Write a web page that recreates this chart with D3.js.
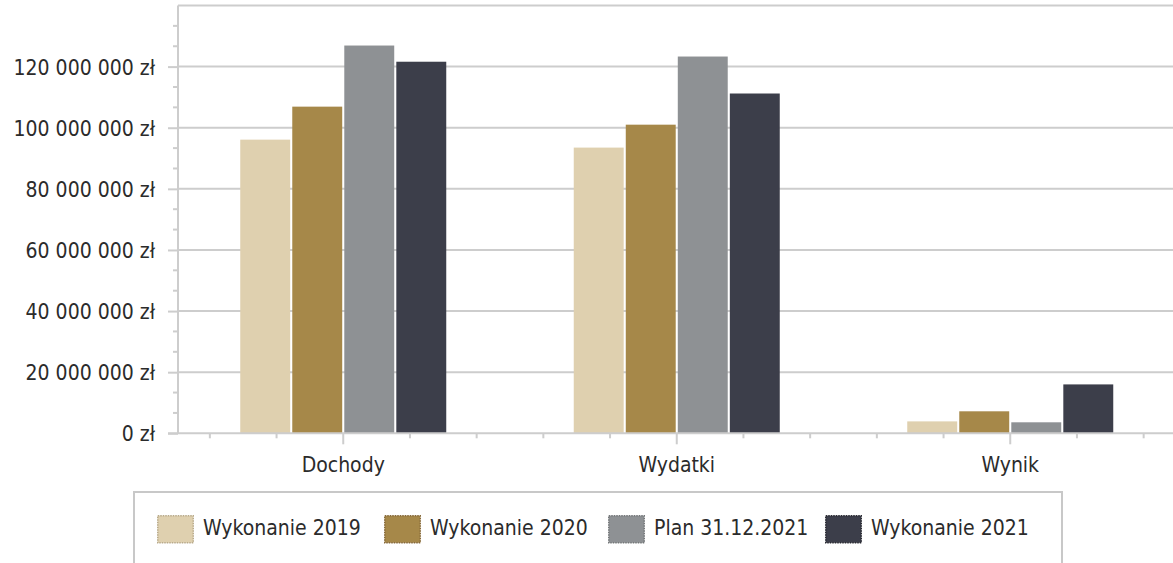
<!DOCTYPE html>
<html>
<head>
<meta charset="utf-8">
<script src="https://cdn.jsdelivr.net/npm/d3@7"></script>
<style>
  html, body { margin: 0; padding: 0; background: #fff; }
  svg { display: block; }
  text { font-family: "DejaVu Sans Condensed", "DejaVu Sans", sans-serif; fill: #2b2b2b; }
</style>
</head>
<body>
<svg id="chart" width="1173" height="563"></svg>
<script>
const categories = ["Dochody", "Wydatki", "Wynik"];
const seriesNames = ["Wykonanie 2019", "Wykonanie 2020", "Plan 31.12.2021", "Wykonanie 2021"];
const wykonanie2019 = [96100000, 93500000, 3900000];
const wykonanie2020 = [106900000, 101000000, 7200000];
const plan2021 = [126900000, 123300000, 3600000];
const wykonanie2021 = [121600000, 111200000, 16000000];
const seriesValues = [wykonanie2019, wykonanie2020, plan2021, wykonanie2021];
const yTickValues = [0, 20000000, 40000000, 60000000, 80000000, 100000000, 120000000];
const yTickLabels = ["0 zł", "20 000 000 zł", "40 000 000 zł", "60 000 000 zł", "80 000 000 zł", "100 000 000 zł", "120 000 000 zł"];
const colors = ["#dfd0af", "#a68849", "#8e9194", "#3c3e4a"];
const swatchStroke = ["#b9aa8a", "#86693a", "#747779", "#2a2b33"];

const svg = d3.select("#chart");
const gridColor = "#cdcdcd";
const axisX = 178;
const fs = 21;

const y = d3.scaleLinear().domain([0, 140000000]).range([433.3, 5.5]);
const x0 = d3.scaleBand().domain(categories).range([176.5, 1177]).padding(0);
const bw = x0.bandwidth();
const groupW = 206;
const x1 = d3.scaleBand().domain(seriesNames).range([(bw - groupW) / 2, (bw + groupW) / 2]).paddingInner(0.04);

// gridlines
const gridVals = yTickValues.slice(1).concat([140000000]);
svg.append("g").selectAll("line").data(gridVals).join("line")
  .attr("x1", axisX).attr("x2", 1173)
  .attr("y1", d => y(d)).attr("y2", d => y(d))
  .attr("stroke", gridColor).attr("stroke-width", 2);

// minor y ticks
const minorY = [];
for (let i = 0; i < 21; i++) { if (i % 3 !== 0) minorY.push(i * 20000000 / 3); }
svg.append("g").selectAll("line").data(minorY).join("line")
  .attr("x1", 173).attr("x2", axisX)
  .attr("y1", d => y(d)).attr("y2", d => y(d))
  .attr("stroke", gridColor).attr("stroke-width", 2);

// bars
const groups = svg.append("g").selectAll("g").data(categories).join("g")
  .attr("transform", c => `translate(${x0(c)},0)`);
groups.selectAll("rect").data((c, ci) => seriesNames.map((s, si) => ({ s, si, v: seriesValues[si][ci] })))
  .join("rect")
  .attr("x", d => x1(d.s))
  .attr("width", x1.bandwidth())
  .attr("y", d => y(d.v))
  .attr("height", d => y(0) - y(d.v))
  .attr("fill", d => colors[d.si]);

// y axis
const yAxis = d3.axisLeft(y).tickValues(yTickValues)
  .tickFormat((d, i) => yTickLabels[i]).tickSize(10).tickPadding(13);
const gy = svg.append("g").attr("transform", `translate(${axisX},0)`).call(yAxis);
gy.select(".domain").attr("stroke", gridColor).attr("stroke-width", 2).attr("d", `M0,${y(140000000)}V${y(0)}`);
gy.selectAll(".tick line").attr("stroke", gridColor).attr("stroke-width", 2);
gy.selectAll(".tick text").attr("font-size", fs).attr("fill", "#2b2b2b").attr("dy", "0.36em")
  .attr("font-family", "DejaVu Sans Condensed, DejaVu Sans, sans-serif");

// x axis baseline
svg.append("line").attr("x1", axisX - 10).attr("x2", 1173).attr("y1", y(0)).attr("y2", y(0))
  .attr("stroke", gridColor).attr("stroke-width", 2);

// x ticks
const xt = [];
categories.forEach(c => { for (let k = -2; k <= 2; k++) xt.push({ x: x0(c) + bw / 2 + k * bw / 5, major: k === 0 }); });
svg.append("g").selectAll("line").data(xt).join("line")
  .attr("x1", d => d.x).attr("x2", d => d.x)
  .attr("y1", y(0)).attr("y2", d => y(0) + (d.major ? 11 : 5))
  .attr("stroke", gridColor).attr("stroke-width", 2);

// x labels
svg.append("g").selectAll("text").data(categories).join("text")
  .attr("x", c => x0(c) + bw / 2).attr("y", 472)
  .attr("text-anchor", "middle").attr("font-size", fs).text(c => c);

// legend
svg.append("rect").attr("x", 134).attr("y", 492).attr("width", 928).attr("height", 100)
  .attr("fill", "none").attr("stroke", "#c8c8c8").attr("stroke-width", 2);
const legendX = [157, 384, 608, 825];
const lg = svg.append("g").selectAll("g").data(seriesNames).join("g")
  .attr("transform", (d, i) => `translate(${legendX[i]},515)`);
lg.append("rect").attr("x", 0.75).attr("y", 0.75).attr("width", 35.5).attr("height", 27)
  .attr("fill", (d, i) => colors[i]).attr("stroke", (d, i) => swatchStroke[i])
  .attr("stroke-width", 1.5).attr("stroke-dasharray", "1.5,1");
lg.append("text").attr("x", 46).attr("y", 20).attr("font-size", fs).text(d => d);
</script>
</body>
</html>
